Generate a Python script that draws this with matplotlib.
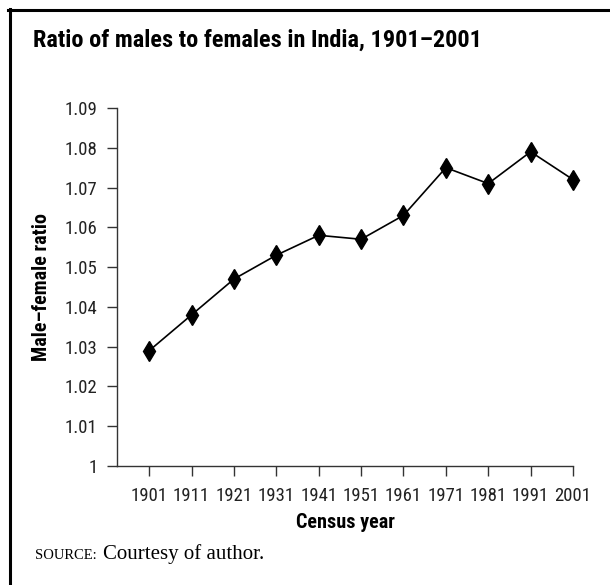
import matplotlib
matplotlib.use('Agg')
import matplotlib.pyplot as plt
from matplotlib.lines import Line2D

years = [1901, 1911, 1921, 1931, 1941, 1951, 1961, 1971, 1981, 1991, 2001]
ratio = [1.029, 1.038, 1.047, 1.053, 1.058, 1.057, 1.063, 1.075, 1.071, 1.079, 1.072]
yticks = [1.00, 1.01, 1.02, 1.03, 1.04, 1.05, 1.06, 1.07, 1.08, 1.09]
ytick_labels = ['1', '1.01', '1.02', '1.03', '1.04', '1.05', '1.06', '1.07', '1.08', '1.09']

narrow = ['Roboto Condensed', 'Archivo Narrow', 'Barlow Condensed', 'DejaVu Sans']
serif = ['Liberation Serif', 'DejaVu Serif']
W, H = 610, 585

fig = plt.figure(figsize=(6.10, 5.85), dpi=100)
ax = fig.add_axes([117 / W, (H - 466) / H, (573 - 117) / W, (466 - 108) / H])

ax.plot(years, ratio, color='black', linewidth=1.2, marker='d', markersize=10.5,
        markerfacecolor='black', markeredgecolor='black', clip_on=False)

ax.set_xlim(1893.4, 2001)
ax.set_ylim(1.0, 1.09)
ax.set_xticks(years)
ax.set_xticklabels([str(y) for y in years], family=narrow, fontsize=13.5, color='#222222')
ax.set_yticks(yticks)
ax.set_yticklabels(ytick_labels, family=narrow, fontsize=13.5, color='#222222')
ax.tick_params(axis='both', direction='out', length=7, width=1, color='#333333')
ax.tick_params(axis='y', pad=7)
ax.tick_params(axis='x', pad=8)

for s in ['top', 'right']:
    ax.spines[s].set_visible(False)
for s in ['left', 'bottom']:
    ax.spines[s].set_color('#333333')
    ax.spines[s].set_linewidth(1)

ax.set_xlabel('Census year', family=narrow, fontsize=14.5, fontweight='bold', labelpad=6)
ax.set_ylabel('Male\u2013female ratio', family=narrow, fontsize=14.5, fontweight='bold', labelpad=10)

fig.text(33 / W, 1 - 40 / H, 'Ratio of males to females in India, 1901\u20132001',
         family=narrow, fontsize=17.5, fontweight='bold', va='center', ha='left')

fig.text(35 / W, 1 - 559 / H, 'SOURCE:', family=serif, fontsize=10.5, va='baseline', ha='left')
fig.text(103 / W, 1 - 559 / H, 'Courtesy of author.', family=serif, fontsize=15,
         va='baseline', ha='left')

# frame lines (top and left)
fig.add_artist(Line2D([8 / W, 1], [1 - 9.5 / H, 1 - 9.5 / H], color='black', linewidth=2.2,
                      transform=fig.transFigure))
fig.add_artist(Line2D([9.5 / W, 9.5 / W], [0, 1 - 8.5 / H], color='black', linewidth=2.2,
                      transform=fig.transFigure))

fig.savefig('out.png', dpi=100)
